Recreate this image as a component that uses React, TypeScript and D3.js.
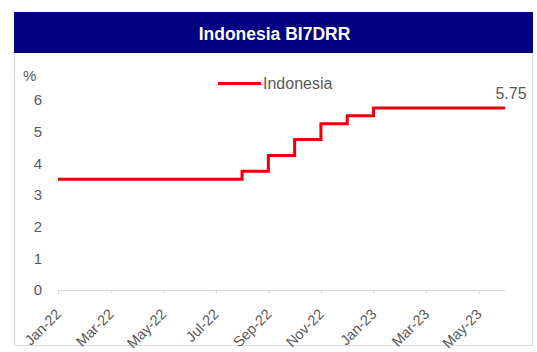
import React from "react";
import * as d3 from "d3";

const months = [
  "Jan-22", "Feb-22", "Mar-22", "Apr-22", "May-22", "Jun-22", "Jul-22", "Aug-22", "Sep-22",
  "Oct-22", "Nov-22", "Dec-22", "Jan-23", "Feb-23", "Mar-23", "Apr-23", "May-23", "Jun-23",
];
const indonesiaRate = [
  3.5, 3.5, 3.5, 3.5, 3.5, 3.5, 3.5, 3.75, 4.25,
  4.75, 5.25, 5.5, 5.75, 5.75, 5.75, 5.75, 5.75, 5.75,
];
const tickLabels = ["Jan-22", "Mar-22", "May-22", "Jul-22", "Sep-22", "Nov-22", "Jan-23", "Mar-23", "May-23"];
const yTicks = [0, 1, 2, 3, 4, 5, 6];
const title = "Indonesia BI7DRR";
const seriesName = "Indonesia";
const lastLabel = "5.75";

const W = 537;
const H = 352;
const FONT = "'Liberation Sans', Arial, sans-serif";
const TEXT = "#595959";

export default function App() {
  const x = d3.scalePoint<string>().domain(months).range([58, 505]);
  const y = d3.scaleLinear().domain([0, 7]).range([290, 68.3]);
  const line = d3
    .line<number>()
    .x((_, i) => x(months[i]) as number)
    .y((d) => y(d))
    .curve(d3.curveStepAfter);
  const lastX = x(months[months.length - 1]) as number;
  const lastY = y(indonesiaRate[indonesiaRate.length - 1]);

  return (
    <svg
      width={W}
      height={H}
      style={{ position: "absolute", left: 0, top: 0, background: "#fff" }}
      fontFamily={FONT}
    >
      <rect x={14.5} y={12.5} width={518} height={333} fill="#fff" stroke="#d9d9d9" />
      <rect x={14} y={12} width={519} height={41} fill="#000080" />
      <text x={274.5} y={40} textAnchor="middle" fill="#fff" fontWeight="bold" fontSize={17.5}>
        {title}
      </text>

      {/* y axis labels */}
      <text x={23} y={81} fill={TEXT} fontSize={15}>%</text>
      {yTicks.map((t) => (
        <text key={t} x={42} y={y(t)} dy="0.35em" textAnchor="end" fill={TEXT} fontSize={15}>
          {t}
        </text>
      ))}

      {/* x axis */}
      <line x1={58} x2={505} y1={290.5} y2={290.5} stroke="#d9d9d9" strokeWidth={1} />
      {tickLabels.map((m) => {
        const tx = x(m) as number;
        return (
          <g key={m}>
            <line x1={tx + 0.5} x2={tx + 0.5} y1={290} y2={294} stroke="#d9d9d9" />
            <text
              transform={`translate(${tx + 4},${315}) rotate(-45)`}
              textAnchor="end"
              fill={TEXT}
              fontSize={14.5}
            >
              {m}
            </text>
          </g>
        );
      })}

      {/* series */}
      <path d={line(indonesiaRate) || ""} fill="none" stroke="#e8000b" strokeWidth={3} />
      <text x={lastX + 6} y={lastY - 9} textAnchor="middle" fill={TEXT} fontSize={16}>
        {lastLabel}
      </text>

      {/* legend */}
      <line x1={218} x2={261} y1={83.5} y2={83.5} stroke="#e8000b" strokeWidth={3} />
      <text x={263} y={83.5} dy="0.35em" fill={TEXT} fontSize={16}>
        {seriesName}
      </text>
    </svg>
  );
}
